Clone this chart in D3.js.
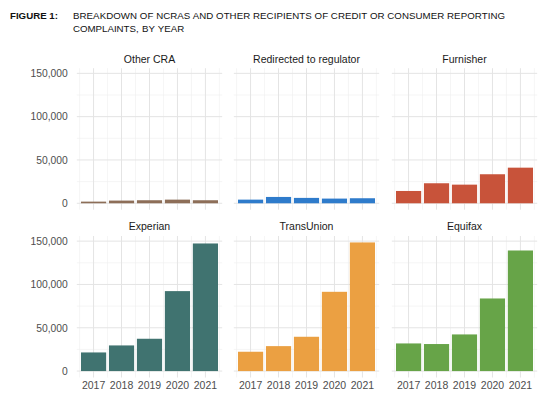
<!DOCTYPE html>
<html><head><meta charset="utf-8">
<script src="https://cdn.jsdelivr.net/npm/d3@7"></script>
<style>html,body{margin:0;padding:0;background:#fff;}svg{display:block;}</style>
</head><body>
<svg id="chart" width="550" height="404"></svg>
<script>
const years = ["2017", "2018", "2019", "2020", "2021"];
const panelNames = ["Other CRA", "Redirected to regulator", "Furnisher", "Experian", "TransUnion", "Equifax"];
const otherCRA = [1900, 3100, 3500, 4200, 3500];
const redirected = [4200, 7300, 6200, 5400, 5800];
const furnisher = [14200, 23100, 21500, 33500, 41100];
const experian = [21500, 29600, 37300, 92300, 147300];
const transunion = [22300, 28800, 39600, 91500, 148500];
const equifax = [31900, 31200, 42300, 83800, 139200];
const yTicks = [0, 50000, 100000, 150000];
const yMinor = [25000, 75000, 125000];
const colors = ["#8d6e58", "#2e7bcb", "#c8533a", "#407370", "#eba042", "#67a448"];

const series = [otherCRA, redirected, furnisher, experian, transunion, equifax];

const svg = d3.select("#chart");
const font = "'Liberation Sans', Arial, Helvetica, sans-serif";

// title
svg.append("text").attr("x", 10).attr("y", 18.5).attr("font-family", font)
  .attr("font-size", 9.7).attr("font-weight", "bold").attr("fill", "#111").text("FIGURE 1:");
svg.append("text").attr("x", 73).attr("y", 18.5).attr("font-family", font)
  .attr("font-size", 9.7).attr("fill", "#111")
  .attr("textLength", 432).attr("lengthAdjust", "spacing")
  .text("BREAKDOWN OF NCRAS AND OTHER RECIPIENTS OF CREDIT OR CONSUMER REPORTING");
svg.append("text").attr("x", 73).attr("y", 31.5).attr("font-family", font)
  .attr("font-size", 9.7).attr("fill", "#111").attr("word-spacing", 0.6)
  .text("COMPLAINTS, BY YEAR");

const maxV = d3.max(series.flat());
const pad = maxV * 0.05;
const panelW = 145.4;
const colX = [76.8, 233.8, 391.8];
const rowY = [{top: 68.2, bottom: 209.7}, {top: 236, bottom: 377.5}];

series.forEach((vals, idx) => {
  const col = idx % 3, row = Math.floor(idx / 3);
  const x0 = colX[col], x1 = x0 + panelW;
  const {top, bottom} = rowY[row];
  const x = d3.scaleBand().domain(years).range([x0, x1]).paddingInner(0.1).paddingOuter(0.15);
  const y = d3.scaleLinear().domain([-pad, maxV + pad]).range([bottom, top]);
  const g = svg.append("g");
  const step = x.step(), bw = x.bandwidth();
  // vertical grid
  const vMajor = years.map(d => x(d) + bw / 2);
  const vMinor = [vMajor[0] - step / 2, ...vMajor.map(c => c + step / 2)];
  g.selectAll(".vmin").data(vMinor).join("line")
    .attr("x1", d => d).attr("x2", d => d).attr("y1", top).attr("y2", bottom)
    .attr("stroke", "#efefef").attr("stroke-width", 0.6);
  g.selectAll(".hmin").data(yMinor).join("line")
    .attr("x1", x0).attr("x2", x1).attr("y1", d => y(d)).attr("y2", d => y(d))
    .attr("stroke", "#efefef").attr("stroke-width", 0.6);
  g.selectAll(".vmaj").data(vMajor).join("line")
    .attr("x1", d => d).attr("x2", d => d).attr("y1", top).attr("y2", bottom)
    .attr("stroke", "#e4e4e4").attr("stroke-width", 1);
  g.selectAll(".hmaj").data(yTicks).join("line")
    .attr("x1", x0).attr("x2", x1).attr("y1", d => y(d)).attr("y2", d => y(d))
    .attr("stroke", "#e4e4e4").attr("stroke-width", 1);
  // bars
  g.selectAll(".bar").data(years.map((yr, i) => ({yr, v: vals[i]}))).join("rect")
    .attr("x", d => x(d.yr)).attr("width", bw)
    .attr("y", d => y(d.v)).attr("height", d => y(0) - y(d.v))
    .attr("fill", colors[idx]);
  // strip title
  svg.append("text").attr("x", (x0 + x1) / 2).attr("y", row === 0 ? 62.5 : 229.8)
    .attr("text-anchor", "middle").attr("font-family", font).attr("font-size", 10.5)
    .attr("fill", "#1a1a1a").text(panelNames[idx]);
  // y axis
  if (col === 0) {
    const ya = d3.axisLeft(y).tickValues(yTicks).tickSize(0).tickPadding(0)
      .tickFormat(d3.format(","));
    const ag = svg.append("g").attr("transform", `translate(${x0 - 9},0)`).call(ya);
    ag.select(".domain").remove();
    ag.selectAll("text").attr("font-family", font).attr("font-size", 10.3).attr("fill", "#4d4d4d");
  }
  // x axis
  if (row === 1) {
    const xa = d3.axisBottom(x).tickSize(0).tickPadding(0);
    const ag = svg.append("g").attr("transform", `translate(0,${bottom + 4})`).call(xa);
    ag.select(".domain").remove();
    ag.selectAll("text").attr("font-family", font).attr("font-size", 10.5).attr("fill", "#4d4d4d");
  }
});
</script>
</body></html>
